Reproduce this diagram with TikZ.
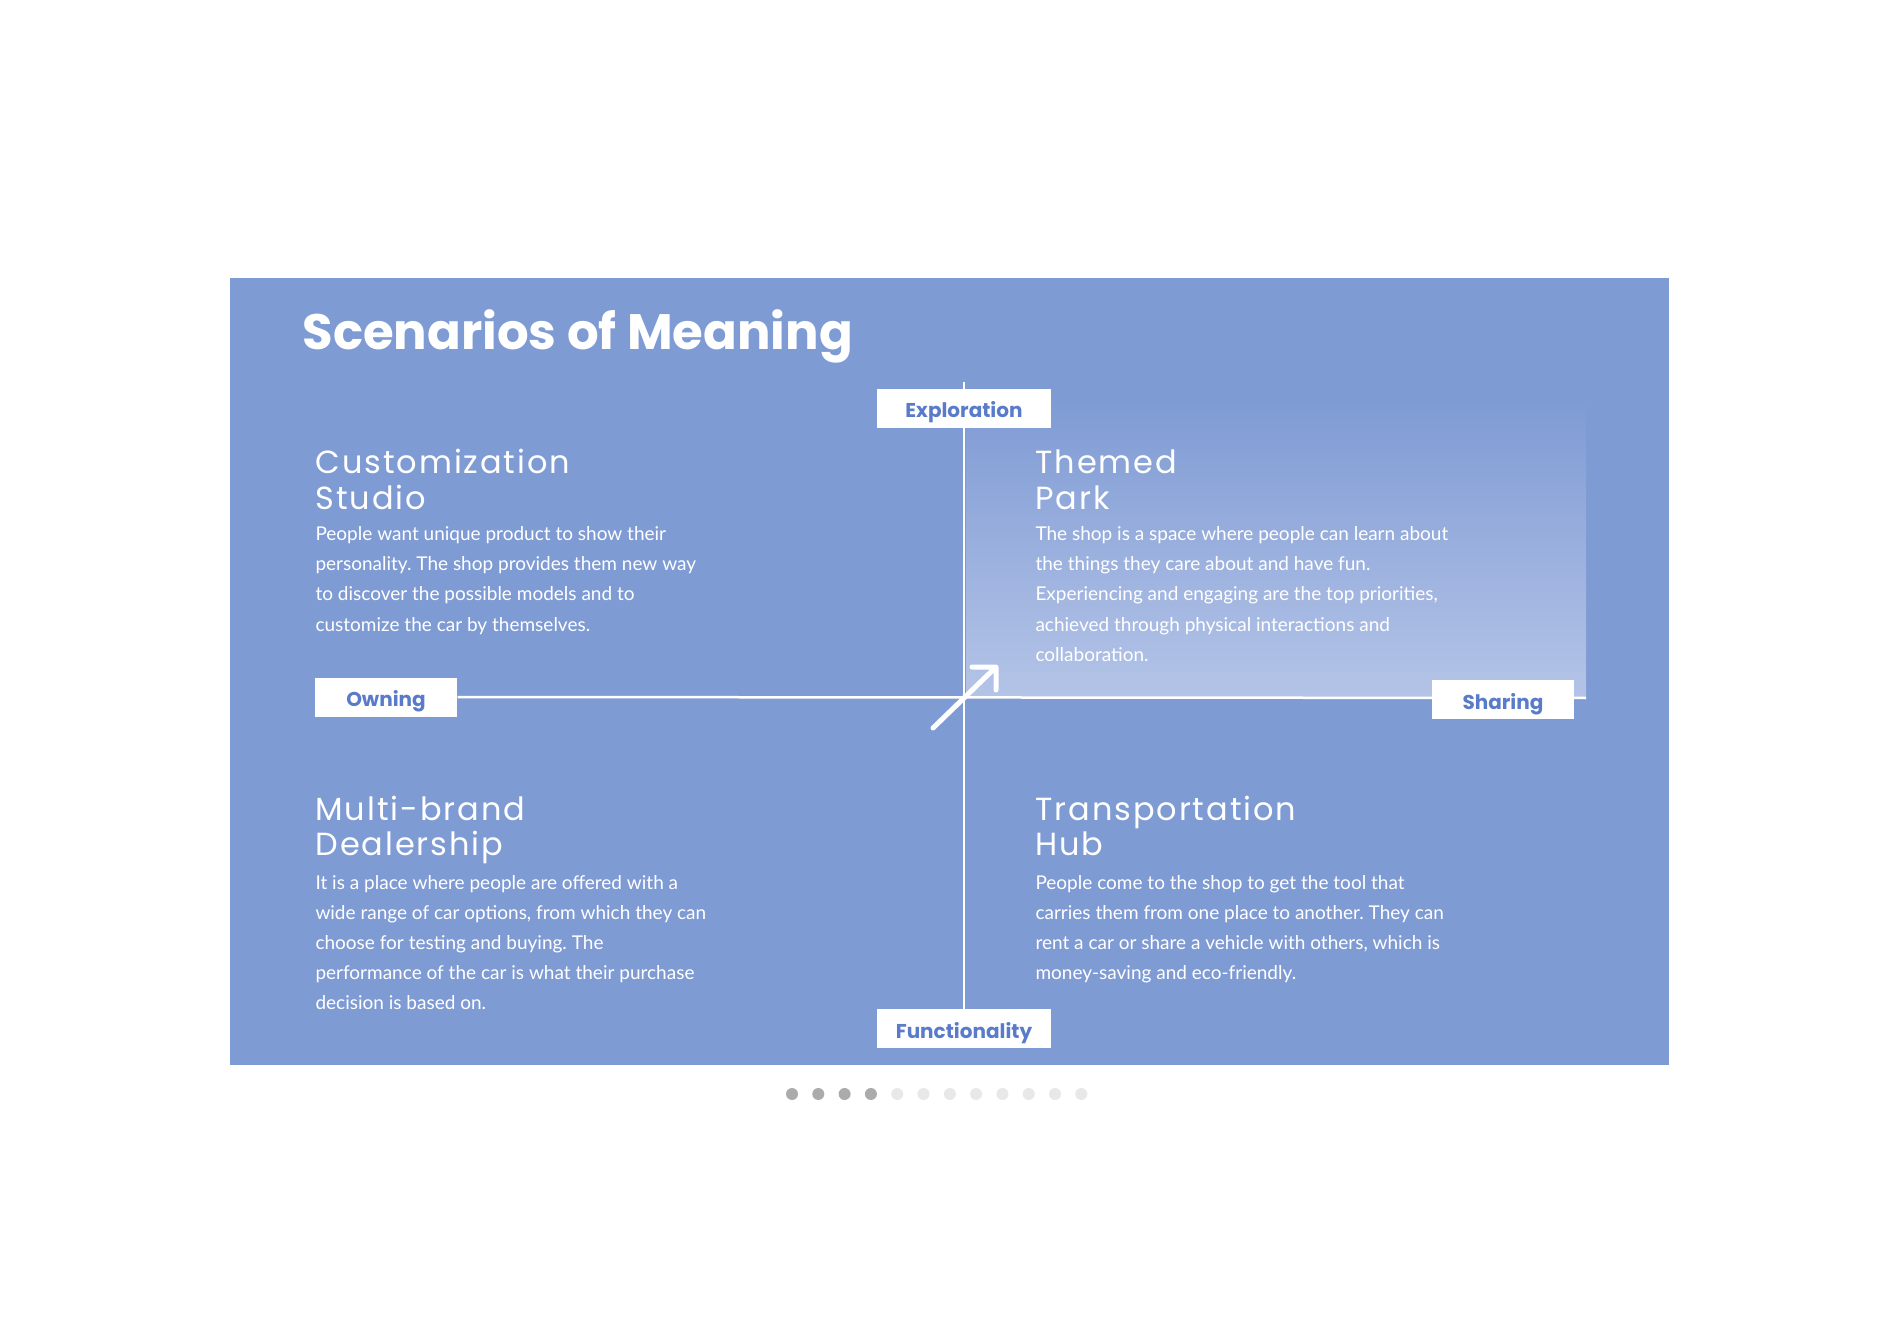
\documentclass[tikz,border=0pt]{standalone}
\usepackage{fontspec}
\setmainfont{Lato}
\newfontfamily\headfont{Poppins}[LetterSpace=6]
\newfontfamily\titlefont{Poppins}
\usetikzlibrary{positioning}
\frenchspacing

\definecolor{panelblue}{HTML}{7F9BD4}
\definecolor{paleblue}{HTML}{B4C4E7}
\definecolor{labelblue}{HTML}{5A7BC9}
\definecolor{dotdark}{HTML}{ABABAB}
\definecolor{dotlight}{HTML}{E8E8E8}

% lines stacked, baseline of the box = baseline of the first line
\newcommand{\textlines}[1]{\vtop{\halign{##\hfil\cr#1\crcr}}}

\begin{document}
\begin{tikzpicture}[x=0.4pt,y=-0.4pt,
    axislabel/.style={fill=white, text=labelblue, inner sep=0pt,
        font=\titlefont\bfseries\fontsize{8}{9}\selectfont,
        text height=7.6pt, text depth=0pt, minimum height=15.6pt},
    wide/.style={axislabel, minimum width=69.6pt},
    narrow/.style={axislabel, minimum width=56.8pt},
    heading/.style={anchor=base west, inner sep=0pt, text=white,
        font=\headfont\fontsize{12.8}{14.2}\selectfont},
    body/.style={anchor=base west, inner sep=0pt, text=white,
        font=\fontsize{7.6}{12}\selectfont}]

	\useasboundingbox (0,0) rectangle (1900,1344);
	\fill[white] (0,0) rectangle (1900,1344);

	%the panel
	\fill[panelblue] (230,278) rectangle (1669,1065);
	\shade[top color=panelblue, bottom color=paleblue] (966,400) rectangle (1586,697);

	\node[anchor=base west, inner sep=0pt, text=white,
	      font=\titlefont\bfseries\fontsize{19.9}{24}\selectfont] (title) at (302,350) {Scenarios of Meaning};

	%axes
	\coordinate (axtop) at (964,382);
	\coordinate (axright) at (1586,698);
	\node[wide] (explo) at (964,408.5) {Exploration};
	\node[wide] (func) at (964,1028.5) {Functionality};
	\node[narrow] (owning) at (386,697) {Owning};
	\draw[white, line width=1pt] (axtop) -- (func.north);
	\draw[white, line width=1pt] (owning.east) -- (axright);
	\node[wide] at (explo) {Exploration};
	\node[narrow] (sharing) at (1503,699.5) {Sharing};

	%the arrow
	\coordinate (arrtail) at (933,728);
	\coordinate (arrtip) at (996,667);
	\draw[white, line width=2pt, line cap=round, line join=round]
	    (arrtail) -- (arrtip) (972,667) -- (arrtip) -- (996,690);

	%the four scenarios
	\node[heading] (custom) at (315,474) {\textlines{Customization\cr Studio}};
	\node[body] (customtext) at (315,541) {\textlines{%
	    People want unique product to show their\cr
	    personality. The shop provides them new way\cr
	    to discover the possible models and to\cr
	    customize the car by themselves.}};

	\node[heading] (themed) at (1035,474) {\textlines{Themed\cr Park}};
	\node[body] (themedtext) at (1035,541) {\textlines{%
	    The shop is a space where people can learn about\cr
	    the things they care about and have fun.\cr
	    Experiencing and engaging are the top priorities,\cr
	    achieved through physical interactions and\cr
	    collaboration.}};

	\node[heading] (dealer) at (315,820) {\textlines{Multi-brand\cr Dealership}};
	\node[body] (dealertext) at (315,889) {\textlines{%
	    It is a place where people are offered with a\cr
	    wide range of car options, from which they can\cr
	    choose for testing and buying. The\cr
	    performance of the car is what their purchase\cr
	    decision is based on.}};

	\node[heading] (hub) at (1035,820) {\textlines{Transportation\cr Hub}};
	\node[body] (hubtext) at (1035,889) {\textlines{%
	    People come to the shop to get the tool that\cr
	    carries them from one place to another. They can\cr
	    rent a car or share a vehicle with others, which is\cr
	    money-saving and eco-friendly.}};

	%page dots
	\foreach \i in {0,...,3}
	    \fill[dotdark] (792+26.3*\i,1094) circle[radius=2.4pt];
	\foreach \i in {4,...,11}
	    \fill[dotlight] (792+26.3*\i,1094) circle[radius=2.4pt];

\end{tikzpicture}
\end{document}
